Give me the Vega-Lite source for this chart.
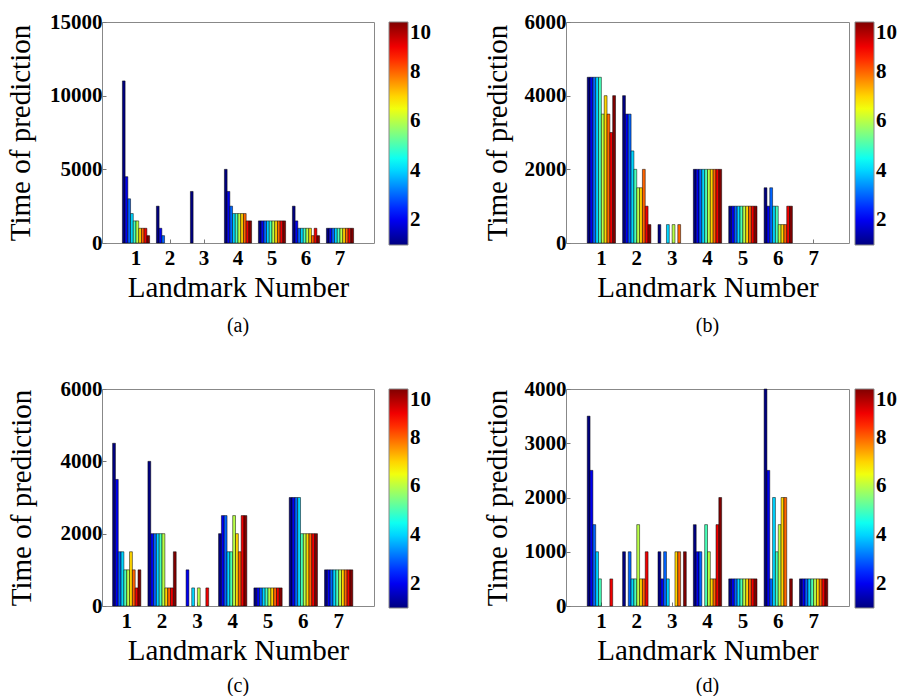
{
  "$schema": "https://vega.github.io/schema/vega-lite/v6.json",
  "background": "white",
  "padding": {"left": 5, "top": 10, "right": 0, "bottom": 0},
  "columns": 2,
  "spacing": {"row": 146, "column": 192},
  "bounds": "flush",
  "resolve": {"scale": {"color": "independent", "x": "independent", "y": "independent", "xOffset": "independent"}, "legend": {"color": "independent"}},
  "data": {"values": [
    {"p":"a","l":1,"s":1,"t":11000},{"p":"a","l":1,"s":2,"t":4500},{"p":"a","l":1,"s":3,"t":3000},{"p":"a","l":1,"s":4,"t":2000},{"p":"a","l":1,"s":5,"t":1500},{"p":"a","l":1,"s":6,"t":1500},{"p":"a","l":1,"s":7,"t":1000},{"p":"a","l":1,"s":8,"t":1000},{"p":"a","l":1,"s":9,"t":1000},{"p":"a","l":1,"s":10,"t":500},
    {"p":"a","l":2,"s":1,"t":2500},{"p":"a","l":2,"s":2,"t":1000},{"p":"a","l":2,"s":3,"t":500},
    {"p":"a","l":3,"s":1,"t":3500},
    {"p":"a","l":4,"s":1,"t":5000},{"p":"a","l":4,"s":2,"t":3500},{"p":"a","l":4,"s":3,"t":2500},{"p":"a","l":4,"s":4,"t":2000},{"p":"a","l":4,"s":5,"t":2000},{"p":"a","l":4,"s":6,"t":2000},{"p":"a","l":4,"s":7,"t":2000},{"p":"a","l":4,"s":8,"t":2000},{"p":"a","l":4,"s":9,"t":1500},{"p":"a","l":4,"s":10,"t":1500},
    {"p":"a","l":5,"s":1,"t":1500},{"p":"a","l":5,"s":2,"t":1500},{"p":"a","l":5,"s":3,"t":1500},{"p":"a","l":5,"s":4,"t":1500},{"p":"a","l":5,"s":5,"t":1500},{"p":"a","l":5,"s":6,"t":1500},{"p":"a","l":5,"s":7,"t":1500},{"p":"a","l":5,"s":8,"t":1500},{"p":"a","l":5,"s":9,"t":1500},{"p":"a","l":5,"s":10,"t":1500},
    {"p":"a","l":6,"s":1,"t":2500},{"p":"a","l":6,"s":2,"t":1500},{"p":"a","l":6,"s":3,"t":1000},{"p":"a","l":6,"s":4,"t":1000},{"p":"a","l":6,"s":5,"t":1000},{"p":"a","l":6,"s":6,"t":1000},{"p":"a","l":6,"s":7,"t":1000},{"p":"a","l":6,"s":8,"t":500},{"p":"a","l":6,"s":9,"t":1000},{"p":"a","l":6,"s":10,"t":500},
    {"p":"a","l":7,"s":1,"t":1000},{"p":"a","l":7,"s":2,"t":1000},{"p":"a","l":7,"s":3,"t":1000},{"p":"a","l":7,"s":4,"t":1000},{"p":"a","l":7,"s":5,"t":1000},{"p":"a","l":7,"s":6,"t":1000},{"p":"a","l":7,"s":7,"t":1000},{"p":"a","l":7,"s":8,"t":1000},{"p":"a","l":7,"s":9,"t":1000},{"p":"a","l":7,"s":10,"t":1000},

    {"p":"b","l":1,"s":1,"t":4500},{"p":"b","l":1,"s":2,"t":4500},{"p":"b","l":1,"s":3,"t":4500},{"p":"b","l":1,"s":4,"t":4500},{"p":"b","l":1,"s":5,"t":4500},{"p":"b","l":1,"s":6,"t":3500},{"p":"b","l":1,"s":7,"t":4000},{"p":"b","l":1,"s":8,"t":3500},{"p":"b","l":1,"s":9,"t":3000},{"p":"b","l":1,"s":10,"t":4000},
    {"p":"b","l":2,"s":1,"t":4000},{"p":"b","l":2,"s":2,"t":3500},{"p":"b","l":2,"s":3,"t":3500},{"p":"b","l":2,"s":4,"t":2500},{"p":"b","l":2,"s":5,"t":2000},{"p":"b","l":2,"s":6,"t":1500},{"p":"b","l":2,"s":7,"t":1500},{"p":"b","l":2,"s":8,"t":2000},{"p":"b","l":2,"s":9,"t":1000},{"p":"b","l":2,"s":10,"t":500},
    {"p":"b","l":3,"s":1,"t":500},{"p":"b","l":3,"s":4,"t":500},{"p":"b","l":3,"s":6,"t":500},{"p":"b","l":3,"s":8,"t":500},
    {"p":"b","l":4,"s":1,"t":2000},{"p":"b","l":4,"s":2,"t":2000},{"p":"b","l":4,"s":3,"t":2000},{"p":"b","l":4,"s":4,"t":2000},{"p":"b","l":4,"s":5,"t":2000},{"p":"b","l":4,"s":6,"t":2000},{"p":"b","l":4,"s":7,"t":2000},{"p":"b","l":4,"s":8,"t":2000},{"p":"b","l":4,"s":9,"t":2000},{"p":"b","l":4,"s":10,"t":2000},
    {"p":"b","l":5,"s":1,"t":1000},{"p":"b","l":5,"s":2,"t":1000},{"p":"b","l":5,"s":3,"t":1000},{"p":"b","l":5,"s":4,"t":1000},{"p":"b","l":5,"s":5,"t":1000},{"p":"b","l":5,"s":6,"t":1000},{"p":"b","l":5,"s":7,"t":1000},{"p":"b","l":5,"s":8,"t":1000},{"p":"b","l":5,"s":9,"t":1000},{"p":"b","l":5,"s":10,"t":1000},
    {"p":"b","l":6,"s":1,"t":1500},{"p":"b","l":6,"s":2,"t":1000},{"p":"b","l":6,"s":3,"t":1500},{"p":"b","l":6,"s":4,"t":1000},{"p":"b","l":6,"s":5,"t":1000},{"p":"b","l":6,"s":6,"t":500},{"p":"b","l":6,"s":7,"t":500},{"p":"b","l":6,"s":8,"t":500},{"p":"b","l":6,"s":9,"t":1000},{"p":"b","l":6,"s":10,"t":1000},

    {"p":"c","l":1,"s":1,"t":4500},{"p":"c","l":1,"s":2,"t":3500},{"p":"c","l":1,"s":3,"t":1500},{"p":"c","l":1,"s":4,"t":1500},{"p":"c","l":1,"s":5,"t":1000},{"p":"c","l":1,"s":6,"t":1000},{"p":"c","l":1,"s":7,"t":1500},{"p":"c","l":1,"s":8,"t":1000},{"p":"c","l":1,"s":9,"t":500},{"p":"c","l":1,"s":10,"t":1000},
    {"p":"c","l":2,"s":1,"t":4000},{"p":"c","l":2,"s":2,"t":2000},{"p":"c","l":2,"s":3,"t":2000},{"p":"c","l":2,"s":4,"t":2000},{"p":"c","l":2,"s":5,"t":2000},{"p":"c","l":2,"s":6,"t":2000},{"p":"c","l":2,"s":7,"t":500},{"p":"c","l":2,"s":8,"t":500},{"p":"c","l":2,"s":9,"t":500},{"p":"c","l":2,"s":10,"t":1500},
    {"p":"c","l":3,"s":2,"t":1000},{"p":"c","l":3,"s":4,"t":500},{"p":"c","l":3,"s":6,"t":500},{"p":"c","l":3,"s":9,"t":500},
    {"p":"c","l":4,"s":1,"t":2000},{"p":"c","l":4,"s":2,"t":2500},{"p":"c","l":4,"s":3,"t":2500},{"p":"c","l":4,"s":4,"t":1500},{"p":"c","l":4,"s":5,"t":1500},{"p":"c","l":4,"s":6,"t":2500},{"p":"c","l":4,"s":7,"t":2000},{"p":"c","l":4,"s":8,"t":1500},{"p":"c","l":4,"s":9,"t":2500},{"p":"c","l":4,"s":10,"t":2500},
    {"p":"c","l":5,"s":1,"t":500},{"p":"c","l":5,"s":2,"t":500},{"p":"c","l":5,"s":3,"t":500},{"p":"c","l":5,"s":4,"t":500},{"p":"c","l":5,"s":5,"t":500},{"p":"c","l":5,"s":6,"t":500},{"p":"c","l":5,"s":7,"t":500},{"p":"c","l":5,"s":8,"t":500},{"p":"c","l":5,"s":9,"t":500},{"p":"c","l":5,"s":10,"t":500},
    {"p":"c","l":6,"s":1,"t":3000},{"p":"c","l":6,"s":2,"t":3000},{"p":"c","l":6,"s":3,"t":3000},{"p":"c","l":6,"s":4,"t":3000},{"p":"c","l":6,"s":5,"t":2000},{"p":"c","l":6,"s":6,"t":2000},{"p":"c","l":6,"s":7,"t":2000},{"p":"c","l":6,"s":8,"t":2000},{"p":"c","l":6,"s":9,"t":2000},{"p":"c","l":6,"s":10,"t":2000},
    {"p":"c","l":7,"s":1,"t":1000},{"p":"c","l":7,"s":2,"t":1000},{"p":"c","l":7,"s":3,"t":1000},{"p":"c","l":7,"s":4,"t":1000},{"p":"c","l":7,"s":5,"t":1000},{"p":"c","l":7,"s":6,"t":1000},{"p":"c","l":7,"s":7,"t":1000},{"p":"c","l":7,"s":8,"t":1000},{"p":"c","l":7,"s":9,"t":1000},{"p":"c","l":7,"s":10,"t":1000},

    {"p":"d","l":1,"s":1,"t":3500},{"p":"d","l":1,"s":2,"t":2500},{"p":"d","l":1,"s":3,"t":1500},{"p":"d","l":1,"s":4,"t":1000},{"p":"d","l":1,"s":5,"t":500},{"p":"d","l":1,"s":9,"t":500},
    {"p":"d","l":2,"s":1,"t":1000},{"p":"d","l":2,"s":3,"t":1000},{"p":"d","l":2,"s":4,"t":500},{"p":"d","l":2,"s":5,"t":500},{"p":"d","l":2,"s":6,"t":1500},{"p":"d","l":2,"s":7,"t":500},{"p":"d","l":2,"s":8,"t":500},{"p":"d","l":2,"s":9,"t":1000},
    {"p":"d","l":3,"s":1,"t":1000},{"p":"d","l":3,"s":2,"t":500},{"p":"d","l":3,"s":3,"t":1000},{"p":"d","l":3,"s":4,"t":500},{"p":"d","l":3,"s":7,"t":1000},{"p":"d","l":3,"s":8,"t":1000},{"p":"d","l":3,"s":10,"t":1000},
    {"p":"d","l":4,"s":1,"t":1500},{"p":"d","l":4,"s":2,"t":1000},{"p":"d","l":4,"s":3,"t":1000},{"p":"d","l":4,"s":5,"t":1500},{"p":"d","l":4,"s":6,"t":1000},{"p":"d","l":4,"s":7,"t":500},{"p":"d","l":4,"s":8,"t":500},{"p":"d","l":4,"s":9,"t":1500},{"p":"d","l":4,"s":10,"t":2000},
    {"p":"d","l":5,"s":1,"t":500},{"p":"d","l":5,"s":2,"t":500},{"p":"d","l":5,"s":3,"t":500},{"p":"d","l":5,"s":4,"t":500},{"p":"d","l":5,"s":5,"t":500},{"p":"d","l":5,"s":6,"t":500},{"p":"d","l":5,"s":7,"t":500},{"p":"d","l":5,"s":8,"t":500},{"p":"d","l":5,"s":9,"t":500},{"p":"d","l":5,"s":10,"t":500},
    {"p":"d","l":6,"s":1,"t":4000},{"p":"d","l":6,"s":2,"t":2500},{"p":"d","l":6,"s":3,"t":500},{"p":"d","l":6,"s":4,"t":2000},{"p":"d","l":6,"s":5,"t":1000},{"p":"d","l":6,"s":6,"t":1500},{"p":"d","l":6,"s":7,"t":2000},{"p":"d","l":6,"s":8,"t":2000},{"p":"d","l":6,"s":10,"t":500},
    {"p":"d","l":7,"s":1,"t":500},{"p":"d","l":7,"s":2,"t":500},{"p":"d","l":7,"s":3,"t":500},{"p":"d","l":7,"s":4,"t":500},{"p":"d","l":7,"s":5,"t":500},{"p":"d","l":7,"s":6,"t":500},{"p":"d","l":7,"s":7,"t":500},{"p":"d","l":7,"s":8,"t":500},{"p":"d","l":7,"s":9,"t":500},{"p":"d","l":7,"s":10,"t":500}
  ]},
  "concat": [
    {
      "width": 272, "height": 221,
      "transform": [{"filter": "datum.p == 'a'"}],
      "title": {"text": "(a)", "orient": "bottom", "offset": 14},
      "mark": {"type": "bar", "stroke": "#000", "strokeWidth": 0.5},
      "encoding": {
        "x": {"field": "l", "type": "nominal", "scale": {"domain": [1,2,3,4,5,6,7], "paddingInner": 0.2, "paddingOuter": 0.6}, "axis": {"title": "Landmark Number"}},
        "xOffset": {"field": "s", "type": "nominal", "scale": {"domain": [1,2,3,4,5,6,7,8,9,10], "paddingInner": 0, "paddingOuter": 0}},
        "y": {"field": "t", "type": "quantitative", "scale": {"domain": [0, 15000], "nice": false}, "axis": {"values": [0,5000,10000,15000], "title": "Time of prediction", "titleX": -73}},
        "color": {"field": "s", "type": "quantitative", "scale": {"type": "linear", "domain": [1,2.125,4.375,6.625,8.875,10], "range": ["#000080","#0000FF","#00FFFF","#FFFF00","#FF0000","#800000"], "interpolate": "rgb"}, "legend": {"offset": 15, "gradientLength": 223}}
      }
    },
    {
      "width": 283, "height": 221,
      "transform": [{"filter": "datum.p == 'b'"}],
      "title": {"text": "(b)", "orient": "bottom", "offset": 14},
      "mark": {"type": "bar", "stroke": "#000", "strokeWidth": 0.5},
      "encoding": {
        "x": {"field": "l", "type": "nominal", "scale": {"domain": [1,2,3,4,5,6,7], "paddingInner": 0.2, "paddingOuter": 0.6}, "axis": {"title": "Landmark Number"}},
        "xOffset": {"field": "s", "type": "nominal", "scale": {"domain": [1,2,3,4,5,6,7,8,9,10], "paddingInner": 0, "paddingOuter": 0}},
        "y": {"field": "t", "type": "quantitative", "scale": {"domain": [0, 6000], "nice": false}, "axis": {"values": [0,2000,4000,6000], "title": "Time of prediction", "titleX": -60}},
        "color": {"field": "s", "type": "quantitative", "scale": {"type": "linear", "domain": [1,2.125,4.375,6.625,8.875,10], "range": ["#000080","#0000FF","#00FFFF","#FFFF00","#FF0000","#800000"], "interpolate": "rgb"}, "legend": {"offset": 6, "gradientLength": 223}}
      }
    },
    {
      "width": 272, "height": 217,
      "transform": [{"filter": "datum.p == 'c'"}],
      "title": {"text": "(c)", "orient": "bottom", "offset": 11},
      "mark": {"type": "bar", "stroke": "#000", "strokeWidth": 0.5},
      "encoding": {
        "x": {"field": "l", "type": "nominal", "scale": {"domain": [1,2,3,4,5,6,7], "paddingInner": 0.2, "paddingOuter": 0.45, "align": 0.3333}, "axis": {"title": "Landmark Number"}},
        "xOffset": {"field": "s", "type": "nominal", "scale": {"domain": [1,2,3,4,5,6,7,8,9,10], "paddingInner": 0, "paddingOuter": 0}},
        "y": {"field": "t", "type": "quantitative", "scale": {"domain": [0, 6000], "nice": false}, "axis": {"values": [0,2000,4000,6000], "title": "Time of prediction", "titleX": -72}},
        "color": {"field": "s", "type": "quantitative", "scale": {"type": "linear", "domain": [1,2.125,4.375,6.625,8.875,10], "range": ["#000080","#0000FF","#00FFFF","#FFFF00","#FF0000","#800000"], "interpolate": "rgb"}, "legend": {"offset": 15, "gradientLength": 219}}
      }
    },
    {
      "width": 283, "height": 217,
      "transform": [{"filter": "datum.p == 'd'"}],
      "title": {"text": "(d)", "orient": "bottom", "offset": 11},
      "mark": {"type": "bar", "stroke": "#000", "strokeWidth": 0.5},
      "encoding": {
        "x": {"field": "l", "type": "nominal", "scale": {"domain": [1,2,3,4,5,6,7], "paddingInner": 0.2, "paddingOuter": 0.6}, "axis": {"title": "Landmark Number"}},
        "xOffset": {"field": "s", "type": "nominal", "scale": {"domain": [1,2,3,4,5,6,7,8,9,10], "paddingInner": 0, "paddingOuter": 0}},
        "y": {"field": "t", "type": "quantitative", "scale": {"domain": [0, 4000], "nice": false}, "axis": {"values": [0,1000,2000,3000,4000], "title": "Time of prediction", "titleX": -60}},
        "color": {"field": "s", "type": "quantitative", "scale": {"type": "linear", "domain": [1,2.125,4.375,6.625,8.875,10], "range": ["#000080","#0000FF","#00FFFF","#FFFF00","#FF0000","#800000"], "interpolate": "rgb"}, "legend": {"offset": 6, "gradientLength": 219}}
      }
    }
  ],
  "config": {
    "view": {"stroke": "#888888", "strokeWidth": 1},
    "title": {"font": "Liberation Serif", "fontSize": 20, "fontWeight": "normal", "color": "#000", "anchor": "middle"},
    "axis": {"labelFont": "Liberation Serif", "labelFontWeight": "bold", "labelFontSize": 21, "labelColor": "#000", "titleFont": "Liberation Serif", "titleFontWeight": "normal", "titleFontSize": 29, "titleColor": "#000", "domain": false, "ticks": true, "tickSize": -4, "tickColor": "#777777", "tickWidth": 1, "grid": false, "labelFlush": false, "labelOverlap": false, "format": "d"},
    "axisX": {"labelPadding": 8, "labelAngle": 0, "titleBaseline": "alphabetic", "titleY": 53},
    "axisY": {"labelPadding": 4, "titleBaseline": "alphabetic", "titleAngle": -90},
    "legend": {"title": null, "direction": "vertical", "orient": "right", "padding": 0, "gradientThickness": 19, "gradientStrokeColor": "#888888", "gradientStrokeWidth": 1, "labelFont": "Liberation Serif", "labelFontWeight": "bold", "labelFontSize": 21, "labelColor": "#000", "labelOffset": 3, "values": [2,4,6,8,10]}
  }
}
